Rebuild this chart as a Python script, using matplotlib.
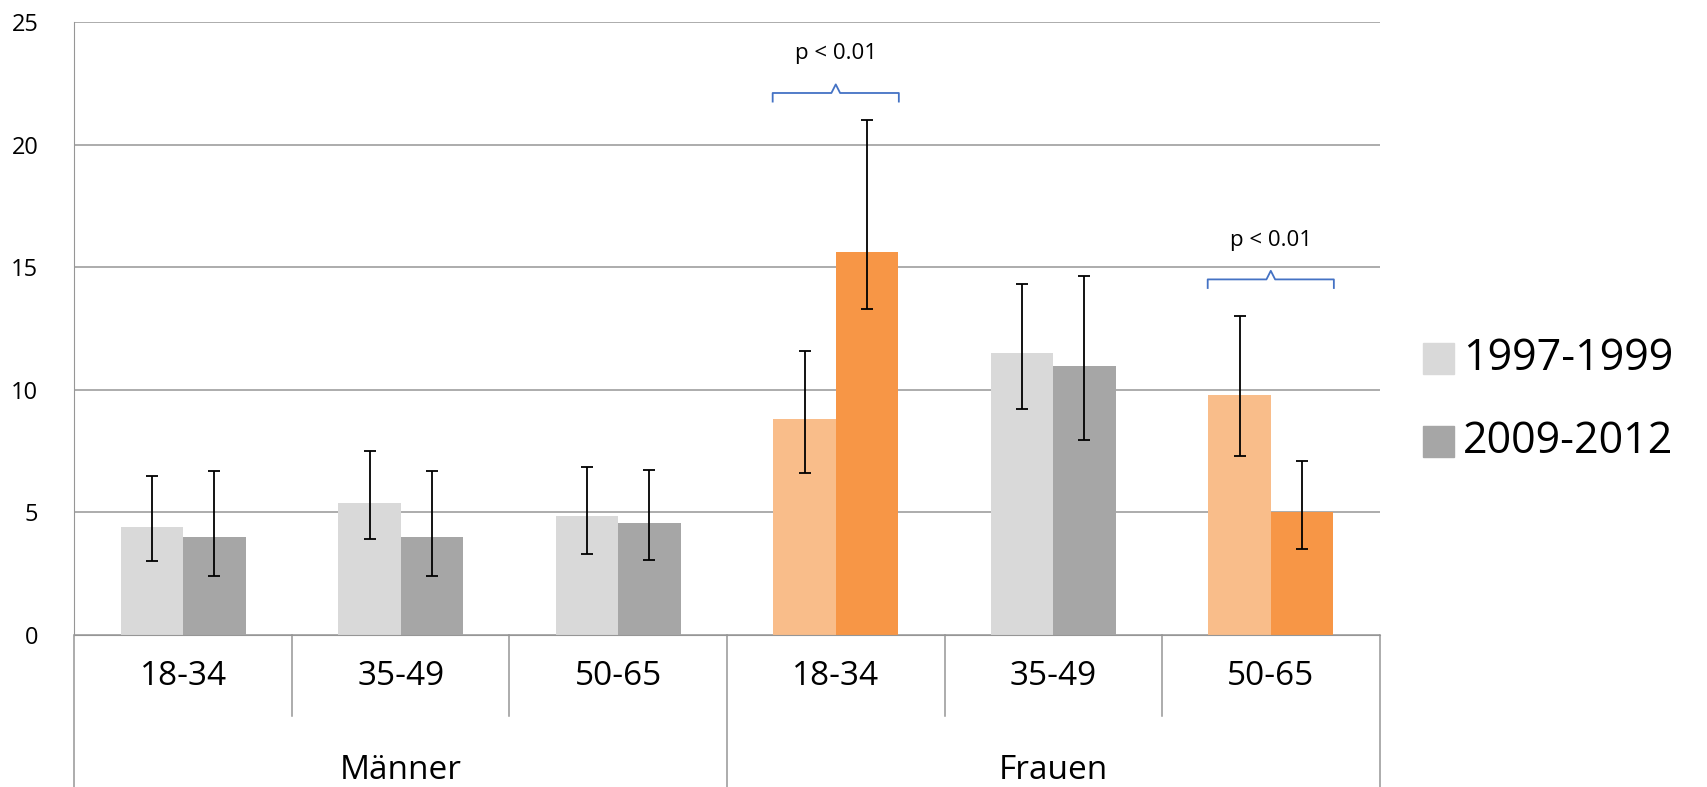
import matplotlib.pyplot as plt
import numpy as np

plt.rcParams['font.family'] = ['Open Sans', 'DejaVu Sans']

groups = ['Männer', 'Frauen']
ages = ['18-34', '35-49', '50-65', '18-34', '35-49', '50-65']
series = ['1997-1999', '2009-2012']
v1997 = [4.4, 5.4, 4.85, 8.8, 11.5, 9.8]
lo1997 = [3.0, 3.9, 3.3, 6.6, 9.2, 7.3]
hi1997 = [6.5, 7.5, 6.85, 11.6, 14.3, 13.0]
v2009 = [4.0, 4.0, 4.55, 15.6, 10.95, 5.0]
lo2009 = [2.4, 2.4, 3.05, 13.3, 7.95, 3.5]
hi2009 = [6.7, 6.7, 6.75, 21.0, 14.65, 7.1]
c1997 = ['#D9D9D9'] * 3 + ['#F9BD8A', '#D9D9D9', '#F9BD8A']
c2009 = ['#A6A6A6'] * 3 + ['#F79646', '#A6A6A6', '#F79646']
sig = [(3, 22.1, 'p < 0.01'), (5, 14.5, 'p < 0.01')]

W, H = 1560, 720  # layout measured in these units
fig = plt.figure(figsize=(17.08, 7.87), dpi=100)
ax = fig.add_axes([68/W, 1-581/H, (1260-68)/W, (581-20)/H])
x = np.arange(len(ages))
w = 0.287
for xs, v, lo, hi, c in [(x - w/2, v1997, lo1997, hi1997, c1997),
                         (x + w/2, v2009, lo2009, hi2009, c2009)]:
    v = np.array(v); lo = np.array(lo); hi = np.array(hi)
    ax.bar(xs, v, w, color=c, zorder=2)
    ax.errorbar(xs, v, yerr=[v - lo, hi - v], fmt='none', ecolor='black',
                elinewidth=1.3, capsize=4.5, capthick=1.3, zorder=3)

ax.set_xlim(-0.5, 5.5)
ax.set_ylim(0, 25)
ax.set_yticks(range(0, 26, 5))
ax.tick_params(axis='y', length=0, labelsize=17, pad=26)
ax.set_xticks([])
ax.grid(axis='y', color='#969696', lw=1.1, zorder=0)
for s in ['top', 'right']:
    ax.spines[s].set_visible(False)
ax.spines['left'].set_color('#969696')
ax.spines['bottom'].set_color('#969696')

# multi-level category axis
tr = ax.get_xaxis_transform()
for i in range(7):
    bot = -139/561 if i in (0, 3, 6) else -74/561
    ax.plot([i - 0.5, i - 0.5], [0, bot], transform=tr, color='#969696', lw=1.1, clip_on=False)
for i, a in enumerate(ages):
    ax.text(i, -38/561, a, transform=tr, ha='center', va='center', fontsize=24)
for j, g in enumerate(groups):
    ax.text(1 + 3*j, -124/561, g, transform=tr, ha='center', va='center', fontsize=24)

# significance braces
for gx, y, label in sig:
    h = 0.35
    xs = [gx - 0.29, gx - 0.29, gx - 0.02, gx, gx + 0.02, gx + 0.29, gx + 0.29]
    ys = [y - h, y, y, y + h, y, y, y - h]
    ax.plot(xs, ys, color='#4472C4', lw=1.3, zorder=4)
    ax.text(gx, y + 1.6, label, ha='center', va='center', fontsize=16)

# legend
for k, (lab, col) in enumerate(zip(series, ['#D9D9D9', '#A6A6A6'])):
    yy = 1 - (328 + 76*k)/H
    fig.patches.append(plt.Rectangle((1300/W, yy - 14/H), 28/W, 28/H,
                                     color=col, transform=fig.transFigure))
    fig.text(1336/W, yy, lab, va='center', fontsize=31)

fig.savefig('out.png', dpi=100)
